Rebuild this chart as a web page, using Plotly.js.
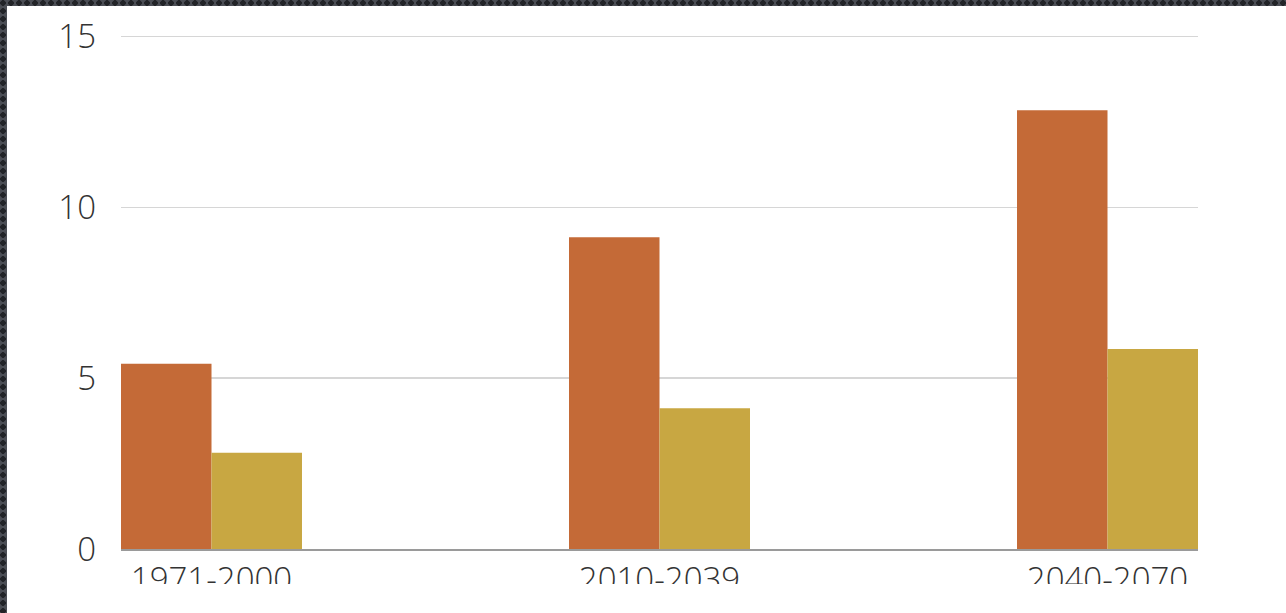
<!DOCTYPE html>
<html>
<head>
<meta charset="utf-8">
<script src="https://cdn.plot.ly/plotly-3.0.1.min.js"></script>
<style>
  html, body { margin: 0; padding: 0; width: 1286px; height: 613px; overflow: hidden; }
  body {
    background-color: #4b4e55;
    background-image: radial-gradient(circle at 50% 50%, #222428 0 2.6px, transparent 3px);
    background-size: 8px 8px;
    background-position: -1px -1px;
  }
  #chart { position: absolute; left: 7px; top: 6px; width: 1279px; height: 607px; background: #fff; }
</style>
</head>
<body>
<div id="chart"></div>
<script>
const categories = ["1971-2000", "2010-2039", "2040-2070"];
const seriesA = [5.42, 9.12, 12.84];
const seriesB = [2.82, 4.12, 5.85];
const yTicks = [0, 5, 10, 15];

const traces = [
  { type: "bar", x: categories, y: seriesA, marker: { color: "#C46A37" }, hoverinfo: "none", name: "A" },
  { type: "bar", x: categories, y: seriesB, marker: { color: "#C8A742" }, hoverinfo: "none", name: "B" }
];

const tickFont = { family: "Open Sans, sans-serif", size: 33, color: "#333333", weight: 300 };

const layout = {
  width: 1279, height: 607,
  margin: { l: 114, r: 88, t: 27, b: 64, pad: 0 },
  paper_bgcolor: "#ffffff",
  plot_bgcolor: "#ffffff",
  showlegend: false,
  barmode: "group",
  bargap: 0.596,
  bargroupgap: 0,
  font: tickFont,
  xaxis: {
    type: "category",
    range: [-0.202, 2.202],
    showgrid: false,
    zeroline: false,
    showline: true,
    linecolor: "#9a9a9a",
    linewidth: 2,
    ticks: "",
    ticklabelstandoff: 0,
    tickfont: tickFont
  },
  yaxis: {
    range: [0, 15.1],
    tickvals: yTicks,
    showgrid: true,
    gridcolor: "#d6d6d6",
    gridwidth: 1.5,
    zeroline: false,
    showline: false,
    ticks: "",
    ticklabelstandoff: 24,
    tickfont: tickFont
  },
  shapes: [
    { type: "rect", xref: "paper", yref: "paper", x0: -0.2, x1: 1.2, y0: -0.12, y1: -0.068,
      fillcolor: "#ffffff", line: { width: 0 }, layer: "above" }
  ]
};

Plotly.newPlot("chart", traces, layout, { displayModeBar: false, staticPlot: true });
</script>
</body>
</html>
